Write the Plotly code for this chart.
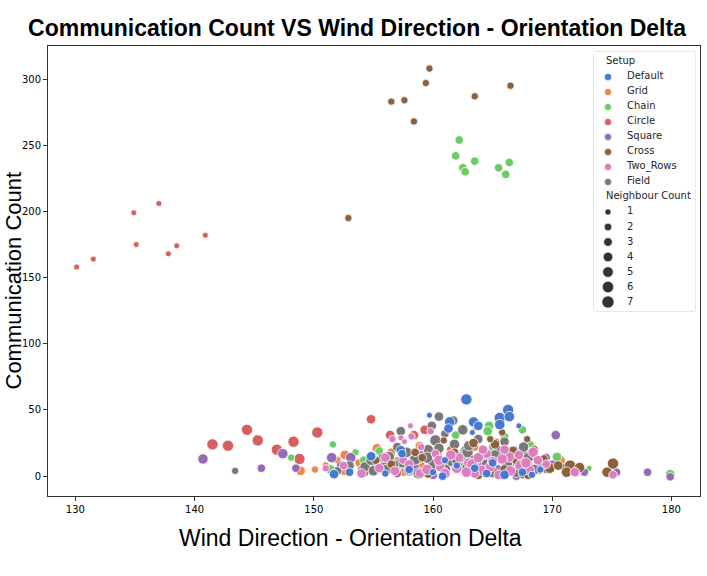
import math
import plotly.graph_objects as go

# Setup categories and seaborn "muted" colours
setups = ["Default", "Grid", "Chain", "Circle", "Square", "Cross", "Two_Rows", "Field"]
colors = ["#4878d0", "#ee854a", "#6acc64", "#d65f5f", "#956cb4", "#8c613c", "#dc7ec0", "#797979"]
neighbour_counts = [1, 2, 3, 4, 5, 6, 7]

# points: wind delta, communication count, neighbour count
default_x = [162.8, 166.3, 165.6, 166.4, 165.6, 163.4, 163.3, 167.2, 159.7, 161.4, 161.3, 157.3, 157.4,
             154.9, 154.8, 151.7, 163.8, 158.0, 160.0, 162.0, 164.5, 166.0, 167.5, 168.3, 169.0, 156.0,
             153.0, 161.0, 165.0, 160.8, 163.5]
default_y = [58, 50, 44, 45, 39, 41, 33, 38, 46, 41, 36, 19.6, 17, 15, 15, 1.5, 38, 5, 3, 8, 2, 1, 3, 1,
             5, 2, 3, 12, 10, 0, 6]
default_n = [6, 6, 6, 5, 5, 5, 1, 1, 1, 5, 4, 4, 3, 3, 4, 4, 4, 3, 2, 2, 3, 4, 3, 2, 2, 2, 3, 2, 3, 3, 3]

grid_x = [148.9, 150.1, 152.6, 152.6, 155.3, 158.9, 153.8, 151.0, 154.0, 156.5, 157.5, 159.0, 160.5,
          162.0, 163.5, 164.0, 166.0, 167.7, 170.7, 161.0, 157.0, 152.0, 163.6]
grid_y = [4, 5, 16, 4, 21, 22.6, 10, 8, 2, 18, 3, 8, 15, 5, 22, 12, 6, 1, 12, 2, 12, 12, 37]
grid_n = [4, 2, 4, 4, 4, 4, 3, 2, 2, 3, 3, 3, 2, 3, 3, 2, 2, 3, 4, 2, 2, 2, 2]

chain_x = [162.2, 161.9, 163.5, 162.5, 162.7, 165.5, 166.4, 166.1, 151.6, 151.4, 148.1, 155.5, 161.9,
           164.7, 164.6, 167.5, 166.0, 170.4, 173.1, 179.9, 154.2, 153.5, 157.0, 160.0, 162.5, 165.0,
           168.2, 166.7, 169.0, 158.8]
chain_y = [254, 242, 238, 233, 230, 233, 237, 228, 24, 5, 14, 19, 31, 38, 34, 35, 30, 14.5, 6, 1.5, 12,
           18, 6, 18, 9, 22, 24, 10, 4, 12]
chain_n = [3, 3, 3, 3, 3, 3, 3, 3, 2, 4, 2, 3, 3, 4, 4, 3, 3, 4, 1, 4, 3, 2, 2, 3, 2, 3, 2, 2, 2, 2]

circle_x = [130.1, 131.5, 134.9, 135.1, 137.0, 137.8, 138.5, 140.9, 141.5, 142.8, 144.4, 145.3, 146.9,
            148.3, 148.8, 150.3, 154.8, 156.4, 158.4, 159.3, 160.0, 163.0, 161.5, 165.3, 157.5, 167.0,
            162.0, 164.8]
circle_y = [158, 164, 199, 175, 206, 168, 174, 182, 24, 23, 35, 27, 20, 26, 13, 33, 43, 31, 31, 35, 6,
            3, 20, 26, 5, 3, 14, 28]
circle_n = [1, 1, 1, 1, 1, 1, 1, 1, 6, 6, 6, 6, 6, 6, 6, 6, 4, 4, 4, 4, 3, 2, 3, 2, 3, 2, 2, 2]

square_x = [140.7, 147.4, 145.6, 148.5, 151.5, 153.1, 152.3, 154.1, 154.2, 170.3, 168.8, 175.4, 178.0,
            179.9, 172.7, 171.1, 156.0, 157.0, 158.5, 160.0, 161.5, 163.0, 165.5, 166.8, 168.0, 169.5,
            162.5, 159.0, 164.0, 155.0, 159.8, 167.0, 170.0]
square_y = [13, 17, 6, 6, 14, 14, 8, 5, 3, 31, 4.5, 3, 3, -0.5, 3, 4.5, 10, 2, 7, 1, 10, 3, 5, 20, 8, 14,
            18, 16, 8, 9, 6, 0, 9]
square_n = [5, 5, 3, 3, 5, 5, 4, 5, 5, 4, 3, 3, 3, 3, 3, 3, 4, 3, 3, 4, 3, 3, 4, 3, 4, 3, 2, 3, 3, 3, 4,
            3, 3]

cross_x = [159.7, 159.4, 156.5, 157.6, 158.4, 163.5, 166.5, 152.9, 155.2, 159.1, 160.9, 163.4, 165.2,
           166.7, 171.2, 171.5, 172.3, 175.1, 174.6, 171.2, 169.8, 156.5, 158.0, 160.5, 161.8, 162.8,
           164.0, 164.8, 166.0, 167.0, 167.6, 168.5, 169.3, 163.8, 161.0, 165.8, 167.9, 159.6, 162.0,
           164.5, 168.0, 170.5, 158.5]
cross_y = [308, 297, 283, 284, 268, 287, 295, 195, 12, 14, 27, 25, 24, 19, 6, 8, 6.5, 9.5, 3, 3, 6, 9, 4,
           10, 18, 6, 15, 28, 5, 12, 2, 20, 13, 1, 3, 33, 28, 2, 11, 4, 1, 8, 18]
cross_n = [2, 2, 2, 2, 2, 2, 2, 2, 3, 3, 2, 4, 4, 4, 6, 6, 5, 6, 5, 5, 5, 3, 2, 3, 3, 4, 3, 2, 4, 4, 5, 3,
           3, 4, 3, 2, 2, 4, 4, 5, 4, 4, 3]

two_rows_x = [158.1, 157.3, 157.6, 159.8, 158.9, 160.6, 164.1, 166.4, 165.8, 168.4, 167.3, 168.1, 171.9,
              175.1, 152.5, 151.0, 154.0, 155.5, 156.8, 157.5, 159.5, 161.0, 162.0, 163.0, 163.5, 164.8,
              165.5, 166.5, 167.2, 168.8, 169.5, 160.2, 162.2, 164.5, 166.0, 159.0, 156.6, 158.2, 163.3,
              160.5, 161.5, 163.8, 165.0, 167.8, 158.0, 156.0, 164.2, 162.8]
two_rows_y = [38, 29, 26, 34, 2, 7, 4.5, 14.5, 13, 18, 8, 4.5, 3, 1, 8, 6, 2, 6, 4, 12, 5, 2, 6, 10, 2, 7,
              1, 4, 16, 12, 9, 17, 14, 17, 20, 22, 28, 30, 9, 12, 16, 14, 11, 10, 9, 14, 20, 3]
two_rows_n = [1, 1, 1, 2, 4, 4, 5, 5, 5, 5, 5, 5, 4, 3, 3, 2, 4, 4, 4, 3, 5, 5, 5, 5, 4, 5, 4, 5, 4, 4, 3,
              3, 4, 4, 4, 2, 2, 2, 6, 5, 5, 5, 5, 5, 4, 4, 4, 5]

field_x = [143.4, 160.5, 159.9, 161.7, 162.5, 157.3, 160.2, 159.6, 160.5, 156.3, 157.4, 158.5, 161.5,
           162.3, 162.8, 156.1, 156.7, 154.3, 162.9, 164.1, 164.9, 167.6, 167.6, 169.0, 169.5, 153.0,
           155.0, 158.0, 160.0, 161.0, 163.0, 164.5, 166.2, 167.0, 168.0, 165.5, 166.0, 163.8, 161.0,
           152.0, 155.8, 158.8, 159.5, 157.8, 163.5, 165.0, 166.8, 168.5, 154.8, 157.0, 161.8, 163.0,
           165.2]
field_y = [4, 45, 38, 42, 35, 34, 27, 20, 21, 14.5, 10.5, 12.6, 11.5, 14.5, 19.6, 5, 8.3, 7, 18, 16, 13,
           16, 22, 11, 6, 8, 4, 4, 9, 5, 5, 9, 9, 3, 14, 19, 26, 28, 32, 4, 14, 2, 14, 18, 12, 3, 14, 5,
           12, 22, 24, 23, 16]
field_n = [2, 4, 4, 4, 5, 4, 6, 5, 5, 6, 6, 6, 6, 6, 6, 5, 5, 5, 6, 6, 6, 6, 5, 6, 5, 4, 5, 5, 6, 6, 5, 5,
           6, 5, 5, 5, 4, 4, 3, 3, 4, 6, 6, 5, 6, 6, 5, 5, 5, 4, 5, 5, 5]

series = {
    "Default": (default_x, default_y, default_n),
    "Grid": (grid_x, grid_y, grid_n),
    "Chain": (chain_x, chain_y, chain_n),
    "Circle": (circle_x, circle_y, circle_n),
    "Square": (square_x, square_y, square_n),
    "Cross": (cross_x, cross_y, cross_n),
    "Two_Rows": (two_rows_x, two_rows_y, two_rows_n),
    "Field": (field_x, field_y, field_n),
}


def marker_px(n):
    # seaborn maps size to area linearly
    return 1.42 * math.sqrt(18 + 9 * (n - 1))


fig = go.Figure()

draw_order = ["Circle", "Grid", "Chain", "Square", "Field", "Cross", "Two_Rows", "Default"]
for name in draw_order:
    xs, ys, ns = series[name]
    fig.add_trace(go.Scatter(
        x=xs, y=ys, mode="markers", showlegend=False, hoverinfo="skip",
        marker=dict(color=colors[setups.index(name)], size=[marker_px(n) for n in ns], opacity=1,
                    line=dict(color="white", width=0.8)),
    ))

# matplotlib-like legend box, built on its own small axis (one row per entry)
setup_rows = list(range(1, 1 + len(setups)))
size_rows = list(range(2 + len(setups), 2 + len(setups) + len(neighbour_counts)))
title_rows = [0, 1 + len(setups)]

fig.add_trace(go.Scatter(
    x=[14] * len(setups), y=setup_rows, mode="markers", xaxis="x2", yaxis="y2",
    showlegend=False, hoverinfo="skip",
    marker=dict(color=colors, size=7, opacity=1, line=dict(color="white", width=0.5)),
))
fig.add_trace(go.Scatter(
    x=[14] * len(neighbour_counts), y=size_rows, mode="markers", xaxis="x2", yaxis="y2",
    showlegend=False, hoverinfo="skip",
    marker=dict(color="#333333", size=[marker_px(n) for n in neighbour_counts], opacity=1,
                line=dict(color="white", width=0.5)),
))
fig.add_trace(go.Scatter(
    x=[33] * (len(setups) + len(neighbour_counts)), y=setup_rows + size_rows,
    text=setups + [str(n) for n in neighbour_counts], mode="text", textposition="middle right",
    xaxis="x2", yaxis="y2", showlegend=False, hoverinfo="skip",
    textfont=dict(family="DejaVu Sans", size=10, color="#262626"),
))
fig.add_trace(go.Scatter(
    x=[12] * 2, y=title_rows, text=["Setup", "Neighbour Count"], mode="text",
    textposition="middle right", xaxis="x2", yaxis="y2", showlegend=False, hoverinfo="skip",
    textfont=dict(family="DejaVu Sans", size=10, color="#262626"),
))
fig.add_shape(type="rect", xref="x2 domain", yref="y2 domain", x0=0, x1=1, y0=0, y1=1,
              fillcolor="rgba(255,255,255,0.85)", line=dict(color="#d0d0d0", width=1), layer="below")

axis_common = dict(
    showline=True, linecolor="#333333", linewidth=1, mirror=True,
    ticks="outside", ticklen=4, tickcolor="#333333",
    showgrid=False, zeroline=False, automargin=False,
    tickfont=dict(family="DejaVu Sans", size=10, color="black"),
)

fig.update_layout(
    width=707, height=576,
    paper_bgcolor="white", plot_bgcolor="white",
    margin=dict(l=48, r=7, t=46, b=80),
    showlegend=False,
    title=dict(text="<b>Communication Count VS Wind Direction - Orientation Delta</b>",
               x=0.505, xanchor="center", y=0.951, yanchor="middle",
               font=dict(family="Liberation Sans", size=23, color="black")),
    xaxis=dict(range=[127.7, 182.4], tickvals=[130, 140, 150, 160, 170, 180], **axis_common),
    yaxis=dict(range=[-15, 325], tickvals=[0, 50, 100, 150, 200, 250, 300], **axis_common),
    xaxis2=dict(domain=[0.8374, 0.9923], range=[0, 101], visible=False, anchor="y2",
                fixedrange=True),
    yaxis2=dict(domain=[0.4111, 0.9867], range=[16.6, -0.667], visible=False, anchor="x2",
                fixedrange=True),
    annotations=[
        dict(text="Wind Direction - Orientation Delta", xref="paper", yref="paper",
             x=(350 - 48) / 652, y=-(538 - 496) / 450, xanchor="center", yanchor="middle",
             showarrow=False, font=dict(family="Liberation Sans", size=23, color="black")),
        dict(text="Communication Count", xref="paper", yref="paper", textangle=-90,
             x=-(48 - 12.5) / 652, y=(496 - 281) / 450, xanchor="center", yanchor="middle",
             showarrow=False, font=dict(family="Liberation Sans", size=22, color="black")),
    ],
)

# page body has an 8px default margin; drop it so the figure sits at the window origin
fig.write_html("out.html", config={"displayModeBar": False},
               post_script="document.body.style.margin='0px';")
